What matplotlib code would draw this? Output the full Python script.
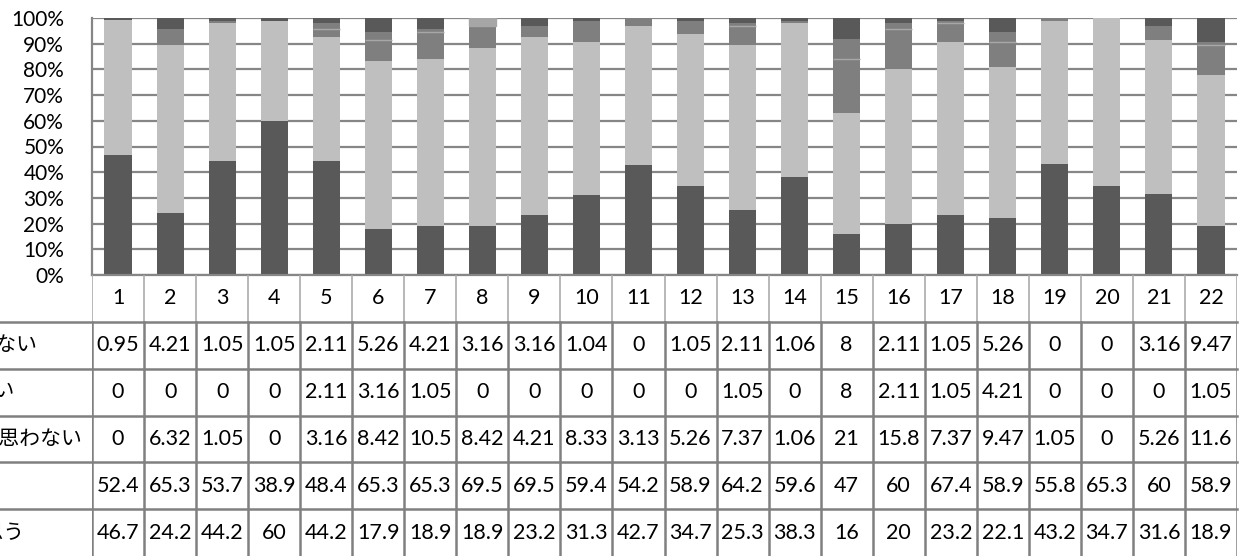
import numpy as np
import matplotlib.pyplot as plt

plt.rcParams['font.family'] = ['Lato', 'Noto Sans CJK JP', 'DejaVu Sans']

items = [str(i) for i in range(1, 23)]

row_labels = ['全くそう思わない', 'わからない', 'あまりそう思わない', 'そう思う', 'とてもそう思う']

# 各設問の回答割合 (%)
zenku = [0.95, 4.21, 1.05, 1.05, 2.11, 5.26, 4.21, 3.16, 3.16, 1.04, 0,
         1.05, 2.11, 1.06, 8, 2.11, 1.05, 5.26, 0, 0, 3.16, 9.47]
wakaranai = [0, 0, 0, 0, 2.11, 3.16, 1.05, 0, 0, 0, 0,
             0, 1.05, 0, 8, 2.11, 1.05, 4.21, 0, 0, 0, 1.05]
amari = [0, 6.32, 1.05, 0, 3.16, 8.42, 10.5, 8.42, 4.21, 8.33, 3.13,
         5.26, 7.37, 1.06, 21, 15.8, 7.37, 9.47, 1.05, 0, 5.26, 11.6]
sou = [52.4, 65.3, 53.7, 38.9, 48.4, 65.3, 65.3, 69.5, 69.5, 59.4, 54.2,
       58.9, 64.2, 59.6, 47, 60, 67.4, 58.9, 55.8, 65.3, 60, 58.9]
totemo = [46.7, 24.2, 44.2, 60, 44.2, 17.9, 18.9, 18.9, 23.2, 31.3, 42.7,
          34.7, 25.3, 38.3, 16, 20, 23.2, 22.1, 43.2, 34.7, 31.6, 18.9]

rows = [zenku, wakaranai, amari, sou, totemo]

fig = plt.figure(figsize=(12.47, 5.56), dpi=100)
left, right = 92 / 1247, 1237 / 1247
ax = fig.add_axes([left, 1 - 275 / 556, right - left, (275 - 18) / 556])
tax = fig.add_axes([left, 0, right - left, 1 - 275 / 556], sharex=ax)

x = np.arange(len(items))
w = 0.52
gray = '#868686'

# 100%積み上げ棒 (下から とても → そう → あまり → わからない → 全く)
totals = np.array(zenku) + np.array(wakaranai) + np.array(amari) + np.array(sou) + np.array(totemo)
pct = [np.array(r) / totals * 100 for r in rows]

bottom = np.zeros(len(items))
colors = ['#595959', '#7F7F7F', '#7F7F7F', '#BFBFBF', '#595959']
for i in [4, 3, 2, 1, 0]:
    bars = ax.bar(x, pct[i], w, bottom=bottom, color=colors[i], zorder=2)
    if i == 0:
        bars[7].set_color('#A6A6A6')
    if i == 1:
        # わからない と あまり の境目
        has = pct[1] > 0
        ax.hlines(bottom[has], x[has] - w / 2, x[has] + w / 2, color='#A8A8A8', lw=1, zorder=3)
    bottom += pct[i]

ax.set_xlim(-0.5, len(items) - 0.5)
ax.set_ylim(0, 100)
ax.set_yticks(np.arange(0, 101, 10))
ax.set_yticklabels([f'{v}%' for v in range(0, 101, 10)], fontsize=15)
ax.tick_params(axis='y', length=0, pad=20)
ax.tick_params(axis='x', length=0, labelbottom=False)
ax.yaxis.grid(True, color=gray, lw=1.6, zorder=1)
ax.set_axisbelow(True)
for s in ['top', 'right']:
    ax.spines[s].set_visible(False)
ax.spines['left'].set_color(gray)
ax.spines['left'].set_linewidth(1.6)
ax.spines['bottom'].set_color(gray)
ax.spines['bottom'].set_linewidth(1.6)

# データテーブル
tax.set_ylim(6, 0)
tax.axis('off')
line_c = '#808080'
x0 = -0.5 - 92 / 52
for k in range(len(items) + 1):
    tax.plot([k - 0.5, k - 0.5], [0, 1], color='#ABABAB', lw=1.2)
    tax.plot([k - 0.5, k - 0.5], [1, 6], color=line_c, lw=1.8)
for r in range(1, 6):
    tax.plot([x0, len(items) - 0.5], [r, r], color=line_c, lw=1.8, clip_on=False)

for j, name in enumerate(items):
    tax.text(j, 0.5, name, ha='center', va='center', fontsize=15.5)


def fmt(v):
    return f'{v:g}'


for r, vals in enumerate(rows):
    for j, v in enumerate(vals):
        tax.text(j, r + 1.5, fmt(v), ha='center', va='center', fontsize=15.5)

# 行見出し (左端で切れる)
label_end = [37, 15, 83, -5, 25]
for r, (name, px) in enumerate(zip(row_labels, label_end)):
    tax.text(-0.5 + (px - 92) / 52, r + 1.5, name, ha='right', va='center',
             fontsize=15, family=['Noto Sans CJK JP'], clip_on=False)

fig.savefig('out.png', dpi=100)
